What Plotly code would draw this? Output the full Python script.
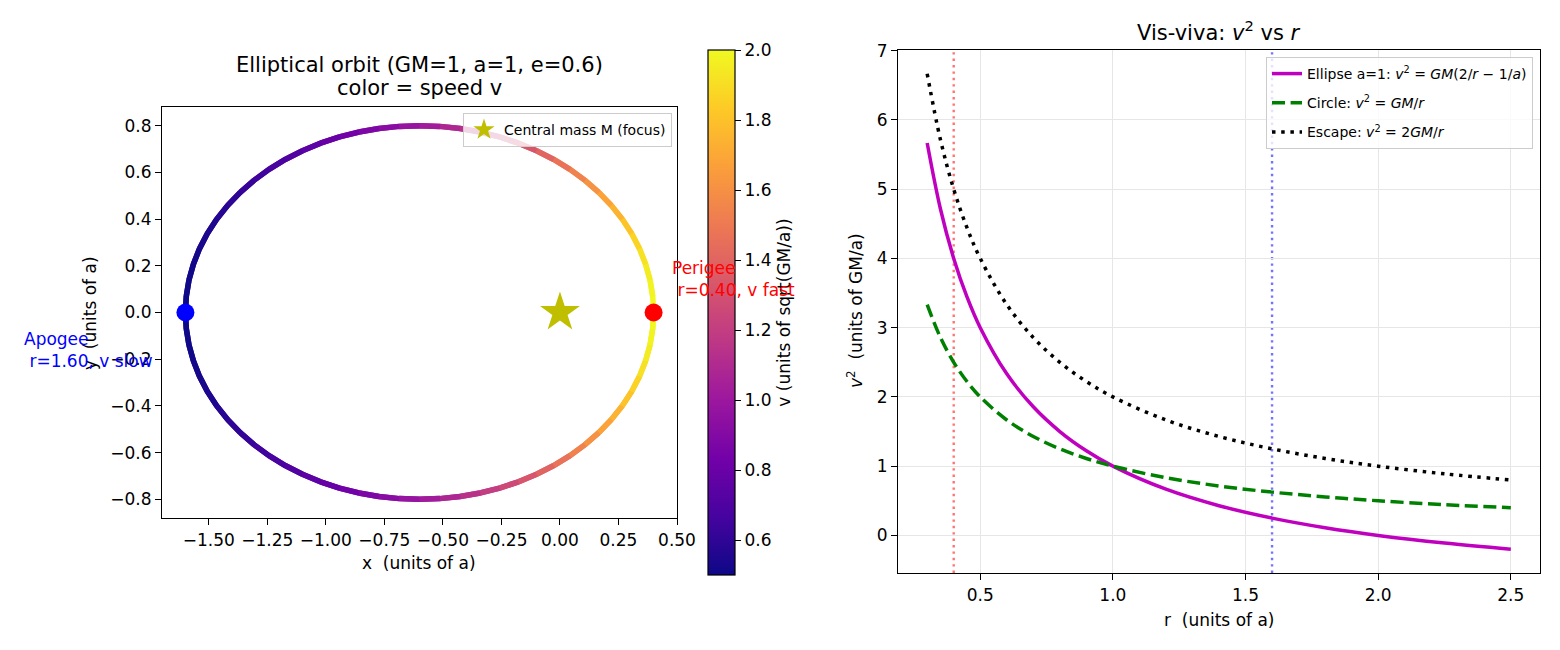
import plotly.graph_objects as go
from plotly.colors import sample_colorscale

# ---------------- data ----------------
orbit_x = [0.4, 0.3962, 0.3848, 0.3659, 0.3397, 0.3063, 0.2660, 0.2192, 0.1660, 0.1071, 0.0428, -0.0264,
           -0.1, -0.1774, -0.2580, -0.3412, -0.4264, -0.5128, -0.6, -0.6872, -0.7736, -0.8588, -0.9420,
           -1.0226, -1.1, -1.1736, -1.2428, -1.3071, -1.3660, -1.4192, -1.4660, -1.5063, -1.5397, -1.5659,
           -1.5848, -1.5962, -1.6,
           -1.5962, -1.5848, -1.5659, -1.5397, -1.5063, -1.4660, -1.4192, -1.3660, -1.3071, -1.2428, -1.1736,
           -1.1, -1.0226, -0.9420, -0.8588, -0.7736, -0.6872, -0.6, -0.5128, -0.4264, -0.3412, -0.2580,
           -0.1774, -0.1, -0.0264, 0.0428, 0.1071, 0.1660, 0.2192, 0.2660, 0.3063, 0.3397, 0.3659, 0.3848,
           0.3962, 0.4]
orbit_y = [0, 0.0698, 0.1389, 0.2070, 0.2736, 0.3381, 0.4, 0.4589, 0.5142, 0.5657, 0.6128, 0.6554, 0.6928,
           0.7250, 0.7518, 0.7727, 0.7878, 0.7970, 0.8, 0.7970, 0.7878, 0.7727, 0.7518, 0.7250, 0.6928,
           0.6554, 0.6128, 0.5657, 0.5142, 0.4589, 0.4, 0.3381, 0.2736, 0.2070, 0.1389, 0.0698, 0,
           -0.0698, -0.1389, -0.2070, -0.2736, -0.3381, -0.4, -0.4589, -0.5142, -0.5657, -0.6128, -0.6554,
           -0.6928, -0.7250, -0.7518, -0.7727, -0.7878, -0.7970, -0.8, -0.7970, -0.7878, -0.7727, -0.7518,
           -0.7250, -0.6928, -0.6554, -0.6128, -0.5657, -0.5142, -0.4589, -0.4, -0.3381, -0.2736, -0.2070,
           -0.1389, -0.0698, 0]
orbit_v = [2.0, 1.993, 1.972, 1.938, 1.893, 1.840, 1.779, 1.713, 1.643, 1.573, 1.502, 1.432, 1.363, 1.296,
           1.231, 1.170, 1.110, 1.054, 1.0, 0.949, 0.901, 0.855, 0.812, 0.772, 0.734, 0.698, 0.666, 0.636,
           0.609, 0.584, 0.562, 0.544, 0.528, 0.516, 0.507, 0.502, 0.5,
           0.502, 0.507, 0.516, 0.528, 0.544, 0.562, 0.584, 0.609, 0.636, 0.666, 0.698, 0.734, 0.772, 0.812,
           0.855, 0.901, 0.949, 1.0, 1.054, 1.110, 1.170, 1.231, 1.296, 1.363, 1.432, 1.502, 1.573, 1.643,
           1.713, 1.779, 1.840, 1.893, 1.938, 1.972, 1.993, 2.0]
v_min, v_max = 0.5, 2.0

perigee = [0.4, 0.0]
apogee = [-1.6, 0.0]
focus = [0.0, 0.0]

r_vals = [0.3, 0.35, 0.4, 0.45, 0.5, 0.6, 0.7, 0.8, 0.9, 1.0, 1.2, 1.4, 1.6, 1.8, 2.0, 2.25, 2.5]
v2_ellipse = [5.667, 4.714, 4.0, 3.444, 3.0, 2.333, 1.857, 1.5, 1.222, 1.0, 0.667, 0.429, 0.25, 0.111, 0.0,
              -0.111, -0.2]
v2_circle = [3.333, 2.857, 2.5, 2.222, 2.0, 1.667, 1.429, 1.25, 1.111, 1.0, 0.833, 0.714, 0.625, 0.556, 0.5,
             0.444, 0.4]
v2_escape = [6.667, 5.714, 5.0, 4.444, 4.0, 3.333, 2.857, 2.5, 2.222, 2.0, 1.667, 1.429, 1.25, 1.111, 1.0,
             0.889, 0.8]
r_markers = [0.4, 1.6]
r_marker_colors = ["rgba(255,0,0,0.55)", "rgba(0,0,255,0.55)"]

left_xticks = [-1.5, -1.25, -1.0, -0.75, -0.5, -0.25, 0.0, 0.25, 0.5]
left_yticks = [-0.8, -0.6, -0.4, -0.2, 0.0, 0.2, 0.4, 0.6, 0.8]
cbar_ticks = [0.6, 0.8, 1.0, 1.2, 1.4, 1.6, 1.8, 2.0]
right_xticks = [0.5, 1.0, 1.5, 2.0, 2.5]
right_yticks = [0, 1, 2, 3, 4, 5, 6, 7]

# ---------------- figure ----------------
W, H = 1560, 650
FONT = "DejaVu Sans"
TICK = 17
TITLE = 21
LEG = 14


def px(x):
    return x / W


def py(y):
    return 1 - y / H


fig = go.Figure()

# colored orbit segments (each overlaps the next a little so joints stay closed)
n = len(orbit_x)
for i in range(n - 1):
    vm = 0.5 * (orbit_v[i] + orbit_v[i + 1])
    col = sample_colorscale("Plasma", [(vm - v_min) / (v_max - v_min)])[0]
    j = min(i + 2, n - 1)
    fig.add_trace(go.Scatter(x=orbit_x[i:j + 1], y=orbit_y[i:j + 1],
                             mode="lines", line=dict(color=col, width=5.5),
                             showlegend=False, hoverinfo="skip", xaxis="x", yaxis="y"))

# colorbar carrier
fig.add_trace(go.Scatter(x=orbit_x, y=orbit_y, mode="markers",
                         marker=dict(size=0.1, opacity=0, color=orbit_v, colorscale="Plasma",
                                     cmin=v_min, cmax=v_max, showscale=True,
                                     colorbar=dict(x=px(708), xanchor="left", thickness=27, xpad=0, ypad=0,
                                                   len=525 / H, lenmode="fraction", y=py(312.5),
                                                   yanchor="middle", outlinewidth=1.2, outlinecolor="black",
                                                   tickvals=cbar_ticks, ticktext=[f"{t:.1f}" for t in cbar_ticks],
                                                   ticks="outside", ticklen=6, tickwidth=1.2, tickcolor="black",
                                                   tickfont=dict(family=FONT, size=TICK, color="black"),
                                                   title=dict(text="v (units of sqrt(GM/a))", side="right",
                                                              font=dict(family=FONT, size=TICK, color="black")))),
                         showlegend=False, hoverinfo="skip", xaxis="x", yaxis="y"))

# central mass, perigee, apogee
fig.add_trace(go.Scatter(x=[focus[0]], y=[focus[1]], mode="markers",
                         marker=dict(symbol="star", size=30, color="#bfbf00", line=dict(width=0)),
                         name="Central mass M (focus)", legend="legend", xaxis="x", yaxis="y"))
fig.add_trace(go.Scatter(x=[perigee[0]], y=[perigee[1]], mode="markers",
                         marker=dict(size=18, color="red"), showlegend=False, xaxis="x", yaxis="y"))
fig.add_trace(go.Scatter(x=[apogee[0]], y=[apogee[1]], mode="markers",
                         marker=dict(size=18, color="blue"), showlegend=False, xaxis="x", yaxis="y"))

# right panel curves
fig.add_trace(go.Scatter(x=r_vals, y=v2_ellipse, mode="lines",
                         line=dict(color="#bf00bf", width=3.5, shape="spline"),
                         name="Ellipse a=1: <i>v</i><sup>2</sup> = <i>GM</i>(2/<i>r</i> − 1/<i>a</i>)",
                         legend="legend2", legendgroup="g1", xaxis="x2", yaxis="y2"))
fig.add_trace(go.Scatter(x=r_vals, y=v2_circle, mode="lines",
                         line=dict(color="green", width=3.5, dash="13px,5.6px", shape="spline"),
                         name="Circle: <i>v</i><sup>2</sup> = <i>GM</i>/<i>r</i>",
                         legend="legend2", legendgroup="g2", xaxis="x2", yaxis="y2"))
fig.add_trace(go.Scatter(x=r_vals, y=v2_escape, mode="lines",
                         line=dict(color="black", width=3.5, dash="3.5px,5.7px", shape="spline"),
                         name="Escape: <i>v</i><sup>2</sup> = 2<i>GM</i>/<i>r</i>",
                         legend="legend2", legendgroup="g3", xaxis="x2", yaxis="y2"))

shapes = []
for rv, rc in zip(r_markers, r_marker_colors):
    shapes.append(dict(type="line", xref="x2", yref="y2 domain", x0=rv, x1=rv, y0=0, y1=1,
                       line=dict(color=rc, width=2.4, dash="2.4px,4px"), layer="below"))

axis_common = dict(showline=True, linecolor="black", linewidth=1.2, mirror=True, ticks="outside",
                   ticklen=6, tickwidth=1.2, tickcolor="black", zeroline=False, automargin=False,
                   tickfont=dict(family=FONT, size=TICK, color="black"))

ann_font = dict(family=FONT, size=TICK, color="black")
annotations = [
    dict(text="Elliptical orbit (GM=1, a=1, e=0.6)", x=px(419), y=py(65), xref="paper", yref="paper",
         showarrow=False, font=dict(family=FONT, size=TITLE, color="black"), xanchor="center", yanchor="middle"),
    dict(text="color = speed v", x=px(419), y=py(88), xref="paper", yref="paper",
         showarrow=False, font=dict(family=FONT, size=TITLE, color="black"), xanchor="center", yanchor="middle"),
    dict(text="Vis-viva: <i>v</i><sup>2</sup> vs <i>r</i>", x=px(1219), y=py(31), xref="paper", yref="paper",
         showarrow=False, font=dict(family=FONT, size=TITLE, color="black"), xanchor="center", yanchor="middle"),
    dict(text="x\u00a0 (units of a)", x=px(419), y=py(563), xref="paper", yref="paper", showarrow=False,
         font=ann_font, xanchor="center", yanchor="middle"),
    dict(text="y\u00a0 (units of a)", x=px(90), y=py(313), xref="paper", yref="paper", showarrow=False,
         font=ann_font, xanchor="center", yanchor="middle", textangle=-90),
    dict(text="r\u00a0 (units of a)", x=px(1219), y=py(620), xref="paper", yref="paper", showarrow=False,
         font=ann_font, xanchor="center", yanchor="middle"),
    dict(text="<i>v</i><sup>2</sup>\u00a0 (units of GM/a)", x=px(855), y=py(311), xref="paper", yref="paper",
         showarrow=False, font=ann_font, xanchor="center", yanchor="middle", textangle=-90),
    dict(text="Perigee<br>\u00a0r=0.40, v fast", x=px(670), y=py(279), xref="paper", yref="paper",
         showarrow=False, font=dict(family=FONT, size=TICK, color="red"), xanchor="left", yanchor="middle",
         align="left"),
    dict(text="Apogee<br>\u00a0r=1.60, v slow", x=px(22), y=py(350), xref="paper", yref="paper",
         showarrow=False, font=dict(family=FONT, size=TICK, color="blue"), xanchor="left", yanchor="middle",
         align="left"),
]

fig.update_layout(
    width=W, height=H, margin=dict(l=0, r=0, t=0, b=0, pad=0, autoexpand=False),
    paper_bgcolor="white", plot_bgcolor="white",
    font=dict(family=FONT, color="black"),
    xaxis=dict(domain=[px(162), px(677)], range=[-1.7, 0.5], tickvals=left_xticks,
               tickformat=".2f", showgrid=False, anchor="y", **axis_common),
    yaxis=dict(domain=[py(518), py(107)], range=[-0.88, 0.88], tickvals=left_yticks,
               tickformat=".1f", showgrid=False, anchor="x", **axis_common),
    xaxis2=dict(domain=[px(898), px(1540)], range=[0.19, 2.61], tickvals=right_xticks,
                tickformat=".1f", showgrid=True, gridcolor="#e6e6e6", gridwidth=1, anchor="y2", **axis_common),
    yaxis2=dict(domain=[py(573), py(50)], range=[-0.543, 7.01], tickvals=right_yticks,
                showgrid=True, gridcolor="#e6e6e6", gridwidth=1, anchor="x2", **axis_common),
    legend=dict(x=px(672), y=py(113), xanchor="right", yanchor="top", bgcolor="rgba(255,255,255,0.8)",
                bordercolor="#cccccc", borderwidth=1, font=dict(family=FONT, size=LEG, color="black"),
                itemsizing="trace"),
    legend2=dict(x=px(1533), y=py(57), xanchor="right", yanchor="top", bgcolor="rgba(255,255,255,0.8)",
                 bordercolor="#cccccc", borderwidth=1, font=dict(family=FONT, size=LEG, color="black"),
                 traceorder="grouped", tracegroupgap=8),
    shapes=shapes,
    annotations=annotations,
    showlegend=True,
)

fig.write_html("out.html")
